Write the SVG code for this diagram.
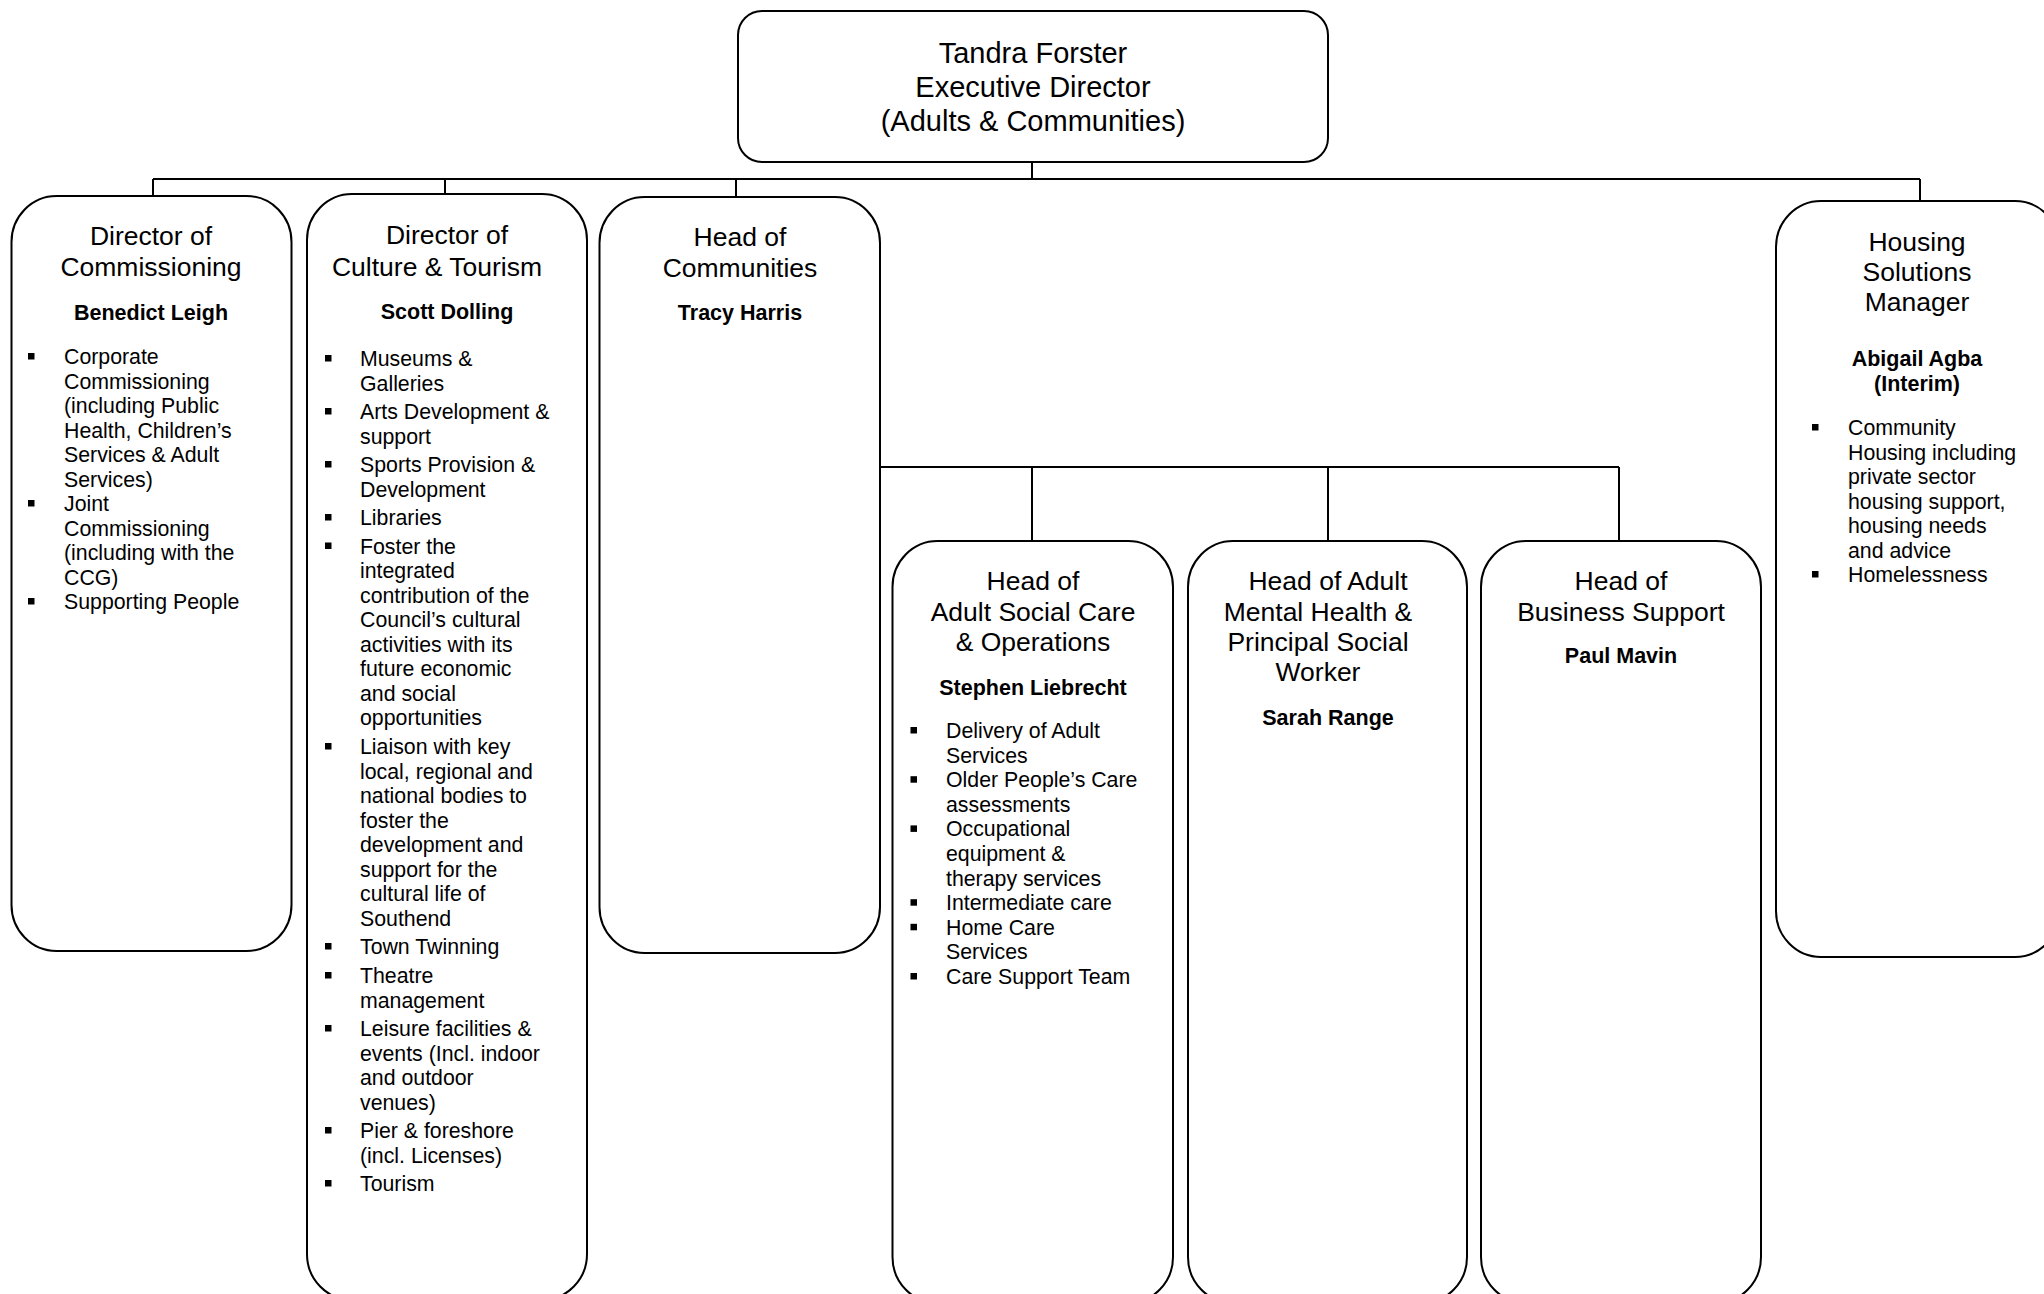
<svg xmlns="http://www.w3.org/2000/svg" xmlns:xlink="http://www.w3.org/1999/xlink" width="2044" height="1294" viewBox="0 0 2044 1294">
<style>
.box{fill:#fff;stroke:#000;stroke-width:2}
.con{fill:none;stroke:#000;stroke-width:2}
text{font-family:"Liberation Sans",Arial,Helvetica,sans-serif;fill:#000}
.ttl{font-size:26.5px;text-anchor:middle}
.top{font-size:29px;text-anchor:middle}
.nm{font-size:21.5px;font-weight:bold;text-anchor:middle}
.bl{font-size:21.3px}
</style>
<defs>
<rect id="bul" width="6.5" height="6.5" fill="#000"/>
</defs>
<rect width="2044" height="1294" fill="#fff"/>
<g id="connectors">
<path class="con" d="M1032 162V179M153 179H1920M153 179V196M445 179V194M736 179V197M1920 179V201"/>
<path class="con" d="M880 467H1619M1032 467V541M1328 467V541M1619 467V541"/>
</g>
<g id="executive">
<rect class="box" x="738" y="11" width="590" height="151" rx="24" ry="24"/>
<text class="top" x="1033" y="63">Tandra Forster</text>
<text class="top" x="1033" y="97">Executive Director</text>
<text class="top" x="1033" y="131">(Adults &amp; Communities)</text>
</g>
<g id="commissioning">
<rect class="box" x="11.5" y="196" width="280" height="755" rx="45" ry="46"/>
<text class="ttl" x="151" y="245">Director of</text>
<text class="ttl" x="151" y="276">Commissioning</text>
<text class="nm" x="151" y="320">Benedict Leigh</text>
<use xlink:href="#bul" x="28" y="353"/>
<use xlink:href="#bul" x="28" y="500"/>
<use xlink:href="#bul" x="28" y="598"/>
<text class="bl" x="64" y="364">Corporate</text>
<text class="bl" x="64" y="388.5">Commissioning</text>
<text class="bl" x="64" y="413">(including Public</text>
<text class="bl" x="64" y="437.5">Health, Children’s</text>
<text class="bl" x="64" y="462">Services &amp; Adult</text>
<text class="bl" x="64" y="486.5">Services)</text>
<text class="bl" x="64" y="511">Joint</text>
<text class="bl" x="64" y="535.5">Commissioning</text>
<text class="bl" x="64" y="560">(including with the</text>
<text class="bl" x="64" y="584.5">CCG)</text>
<text class="bl" x="64" y="609">Supporting People</text>
</g>
<g id="culture">
<rect class="box" x="307" y="194" width="280" height="1106" rx="45" ry="46"/>
<text class="ttl" x="447" y="244">Director of</text>
<text class="ttl" x="437" y="276">Culture &amp; Tourism</text>
<text class="nm" x="447" y="319">Scott Dolling</text>
<use xlink:href="#bul" x="325" y="355"/>
<use xlink:href="#bul" x="325" y="408"/>
<use xlink:href="#bul" x="325" y="461"/>
<use xlink:href="#bul" x="325" y="514"/>
<use xlink:href="#bul" x="325" y="542.5"/>
<use xlink:href="#bul" x="325" y="743"/>
<use xlink:href="#bul" x="325" y="943"/>
<use xlink:href="#bul" x="325" y="972"/>
<use xlink:href="#bul" x="325" y="1025"/>
<use xlink:href="#bul" x="325" y="1127"/>
<use xlink:href="#bul" x="325" y="1180"/>
<text class="bl" x="360" y="366">Museums &amp;</text>
<text class="bl" x="360" y="390.5">Galleries</text>
<text class="bl" x="360" y="419">Arts Development &amp;</text>
<text class="bl" x="360" y="443.5">support</text>
<text class="bl" x="360" y="472">Sports Provision &amp;</text>
<text class="bl" x="360" y="496.5">Development</text>
<text class="bl" x="360" y="525">Libraries</text>
<text class="bl" x="360" y="553.5">Foster the</text>
<text class="bl" x="360" y="578">integrated</text>
<text class="bl" x="360" y="602.5">contribution of the</text>
<text class="bl" x="360" y="627">Council’s cultural</text>
<text class="bl" x="360" y="651.5">activities with its</text>
<text class="bl" x="360" y="676">future economic</text>
<text class="bl" x="360" y="700.5">and social</text>
<text class="bl" x="360" y="725">opportunities</text>
<text class="bl" x="360" y="754">Liaison with key</text>
<text class="bl" x="360" y="778.5">local, regional and</text>
<text class="bl" x="360" y="803">national bodies to</text>
<text class="bl" x="360" y="827.5">foster the</text>
<text class="bl" x="360" y="852">development and</text>
<text class="bl" x="360" y="876.5">support for the</text>
<text class="bl" x="360" y="901">cultural life of</text>
<text class="bl" x="360" y="925.5">Southend</text>
<text class="bl" x="360" y="954">Town Twinning</text>
<text class="bl" x="360" y="983">Theatre</text>
<text class="bl" x="360" y="1007.5">management</text>
<text class="bl" x="360" y="1036">Leisure facilities &amp;</text>
<text class="bl" x="360" y="1060.5">events (Incl. indoor</text>
<text class="bl" x="360" y="1085">and outdoor</text>
<text class="bl" x="360" y="1109.5">venues)</text>
<text class="bl" x="360" y="1138">Pier &amp; foreshore</text>
<text class="bl" x="360" y="1162.5">(incl. Licenses)</text>
<text class="bl" x="360" y="1191">Tourism</text>
</g>
<g id="communities">
<rect class="box" x="599.5" y="197" width="280.5" height="756" rx="45" ry="46"/>
<text class="ttl" x="740" y="246">Head of</text>
<text class="ttl" x="740" y="277">Communities</text>
<text class="nm" x="740" y="320">Tracy Harris</text>
</g>
<g id="adult-social-care">
<rect class="box" x="892.5" y="541" width="280.5" height="762" rx="45" ry="46"/>
<text class="ttl" x="1033" y="590">Head of</text>
<text class="ttl" x="1033" y="621">Adult Social Care</text>
<text class="ttl" x="1033" y="651">&amp; Operations</text>
<text class="nm" x="1033" y="695">Stephen Liebrecht</text>
<use xlink:href="#bul" x="910.5" y="727"/>
<use xlink:href="#bul" x="910.5" y="776.2"/>
<use xlink:href="#bul" x="910.5" y="825.4"/>
<use xlink:href="#bul" x="910.5" y="899.2"/>
<use xlink:href="#bul" x="910.5" y="923.8"/>
<use xlink:href="#bul" x="910.5" y="973"/>
<text class="bl" x="946" y="738">Delivery of Adult</text>
<text class="bl" x="946" y="762.6">Services</text>
<text class="bl" x="946" y="787.2">Older People’s Care</text>
<text class="bl" x="946" y="811.8">assessments</text>
<text class="bl" x="946" y="836.4">Occupational</text>
<text class="bl" x="946" y="861">equipment &amp;</text>
<text class="bl" x="946" y="885.6">therapy services</text>
<text class="bl" x="946" y="910.2">Intermediate care</text>
<text class="bl" x="946" y="934.8">Home Care</text>
<text class="bl" x="946" y="959.4">Services</text>
<text class="bl" x="946" y="984">Care Support Team</text>
</g>
<g id="mental-health">
<rect class="box" x="1188" y="541" width="279" height="762" rx="45" ry="46"/>
<text class="ttl" x="1328" y="590">Head of Adult</text>
<text class="ttl" x="1318" y="621">Mental Health &amp;</text>
<text class="ttl" x="1318" y="651">Principal Social</text>
<text class="ttl" x="1318" y="681">Worker</text>
<text class="nm" x="1328" y="725">Sarah Range</text>
</g>
<g id="business-support">
<rect class="box" x="1481" y="541" width="280" height="762" rx="45" ry="46"/>
<text class="ttl" x="1621" y="590">Head of</text>
<text class="ttl" x="1621" y="621">Business Support</text>
<text class="nm" x="1621" y="663">Paul Mavin</text>
</g>
<g id="housing">
<rect class="box" x="1776" y="201" width="284" height="756" rx="45" ry="46"/>
<text class="ttl" x="1917" y="251">Housing</text>
<text class="ttl" x="1917" y="281">Solutions</text>
<text class="ttl" x="1917" y="311">Manager</text>
<text class="nm" x="1917" y="366">Abigail Agba</text>
<text class="nm" x="1917" y="391">(Interim)</text>
<use xlink:href="#bul" x="1812" y="424"/>
<use xlink:href="#bul" x="1812" y="571"/>
<text class="bl" x="1848" y="435">Community</text>
<text class="bl" x="1848" y="459.5">Housing including</text>
<text class="bl" x="1848" y="484">private sector</text>
<text class="bl" x="1848" y="508.5">housing support,</text>
<text class="bl" x="1848" y="533">housing needs</text>
<text class="bl" x="1848" y="557.5">and advice</text>
<text class="bl" x="1848" y="582">Homelessness</text>
</g>
</svg>
